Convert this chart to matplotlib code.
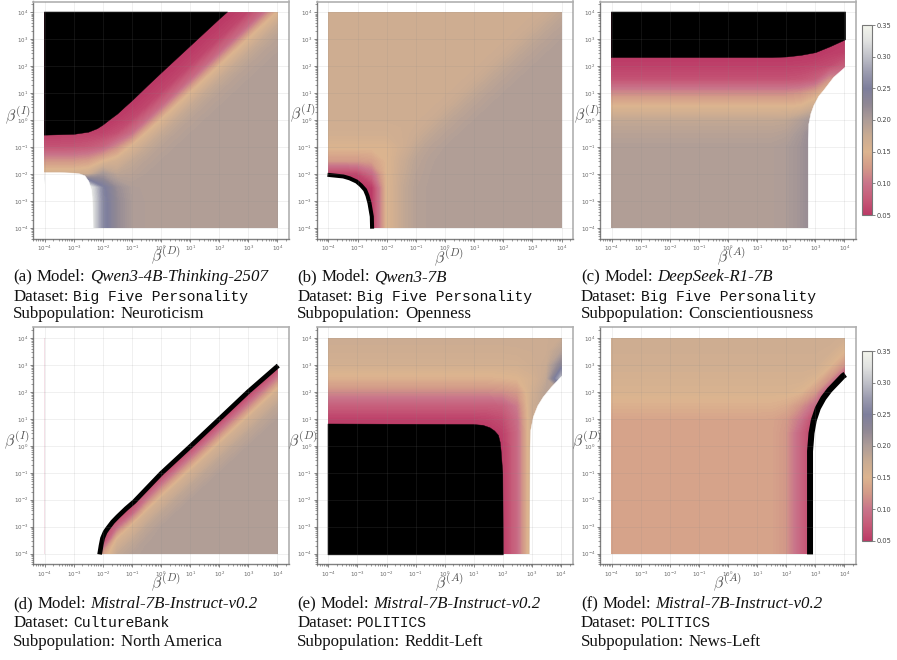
import numpy as np
import matplotlib
matplotlib.use('Agg')
import matplotlib.pyplot as plt
from matplotlib.colors import LinearSegmentedColormap, Normalize
from matplotlib.cm import ScalarMappable

# colour of the scale from 0.05 to 0.35, equal steps
scale_colors = ['#bb3a66', '#c65a78', '#c9748a', '#d39a88', '#dcb48f', '#c9ab92',
                '#ad9c97', '#8f8794', '#7d7e9c', '#9a9aae', '#bfc0c8', '#e0e1e0', '#f3f5ec']
cbar_ticks = [0.05, 0.10, 0.15, 0.20, 0.25, 0.30, 0.35]
exponents = np.arange(-4, 4.5, 0.5)

# fields: one row per exponent of the y axis (-4 to 4 by 0.5), one column per exponent of the x axis
field_a = [
    [.40,.40,.40,.355,.26,.22,.20]+[.197]*10,
    [.40,.40,.40,.355,.26,.22,.20]+[.197]*10,
    [.40,.40,.40,.355,.26,.22,.20]+[.197]*10,
    [.40,.40,.40,.35,.255,.215,.198]+[.197]*10,
    [.165,.165,.165,.17,.205,.185,.19,.195]+[.197]*9,
    [.12,.12,.12,.125,.145,.162,.18,.19,.195]+[.197]*8,
    [.07,.07,.071,.075,.085,.115,.155,.178,.19,.195]+[.197]*7,
    [.053,.053,.054,.055,.058,.068,.095,.152,.178,.19,.195]+[.197]*6,
    [.045]*5+[.052,.062,.092,.15,.178,.19,.195]+[.197]*5,
    [.045]*6+[.05,.06,.09,.15,.178,.19,.195]+[.197]*4,
    [.045]*7+[.05,.06,.09,.15,.178,.19,.195]+[.197]*3,
    [.045]*8+[.05,.06,.09,.15,.178,.19,.195]+[.197]*2,
    [.045]*9+[.05,.06,.09,.15,.178,.19,.195]+[.197]*1,
    [.045]*10+[.05,.06,.09,.15,.178,.19,.195],
    [.045]*11+[.05,.06,.09,.15,.178,.19],
    [.045]*12+[.05,.06,.09,.15,.178],
    [.045]*13+[.05,.06,.09,.15],
]
field_b = [
    [.045,.045,.045,.05,.15,.178,.192,.196]+[.197]*9,
    [.045,.045,.045,.05,.15,.178,.192,.196]+[.197]*9,
    [.045,.045,.045,.05,.15,.178,.192,.196]+[.197]*9,
    [.045,.045,.045,.05,.15,.178,.192,.196]+[.197]*9,
    [.055,.055,.06,.09,.15,.175,.19,.195]+[.197]*9,
    [.125,.125,.125,.13,.15,.172,.187,.194]+[.197]*9,
    [.152,.152,.152,.152,.152,.165,.18,.19,.195]+[.197]*8,
    [.164]*5+[.167,.172,.182,.19,.195]+[.197]*7,
    [.168]*6+[.169,.173,.182,.19,.195]+[.197]*6,
    [.168]*7+[.169,.173,.182,.19,.195]+[.197]*5,
    [.168]*8+[.169,.173,.182,.19,.195]+[.197]*4,
    [.168]*9+[.169,.173,.182,.19,.195]+[.197]*3,
    [.168]*10+[.169,.173,.182,.19,.195]+[.197]*2,
    [.168]*11+[.169,.173,.182,.19,.195]+[.197]*1,
    [.168]*12+[.169,.173,.182,.19,.195],
    [.168]*13+[.169,.173,.182,.19],
    [.168]*14+[.169,.173,.182],
]
field_c = [
    [.197]*12+[.20,.21,.225,.225,.225],
    [.197]*12+[.20,.21,.225,.225,.225],
    [.197]*12+[.20,.21,.225,.225,.225],
    [.197]*12+[.20,.21,.225,.225,.225],
    [.197]*12+[.20,.21,.225,.225,.225],
    [.197]*12+[.20,.21,.225,.225,.225],
    [.197]*12+[.20,.21,.225,.225,.225],
    [.19]*12+[.193,.205,.225,.225,.225],
    [.18]*12+[.182,.195,.21,.21,.21],
    [.15]*12+[.15,.152,.17,.18,.18],
    [.115]*12+[.115,.12,.135,.16,.16],
    [.07]*12+[.07,.072,.08,.12,.12],
    [.055]*12+[.055,.057,.06,.065,.08],
    [.045]*15+[.052,.055],
    [.045]*16+[.05],
    [.045]*17,
    [.045]*17,
]
field_d = [
    [.045]*4+[.125,.18,.192]+[.197]*10,
    [.045]*5+[.158,.18,.194]+[.197]*9,
    [.045]*5+[.09,.157,.183,.195]+[.197]*8,
    [.045]*6+[.085,.162,.184,.195]+[.197]*7,
    [.045]*7+[.10,.163,.184,.195]+[.197]*6,
    [.045]*8+[.105,.163,.184,.195]+[.197]*5,
    [.045]*9+[.105,.163,.184,.195]+[.197]*4,
    [.045]*10+[.105,.163,.184,.195]+[.197]*3,
    [.045]*11+[.105,.163,.184,.195]+[.197]*2,
    [.045]*12+[.105,.163,.184,.195]+[.197]*1,
    [.045]*13+[.105,.163,.184,.195],
    [.045]*14+[.105,.163,.184],
    [.045]*15+[.105,.163],
    [.045]*16+[.105],
    [.045]*17,
    [.045]*17,
    [.045]*17,
]
field_e = [
    [.045]*12+[.05,.09,.17,.17,.17],
    [.045]*12+[.05,.09,.17,.17,.17],
    [.045]*12+[.05,.09,.17,.17,.17],
    [.045]*12+[.05,.09,.17,.17,.17],
    [.045]*12+[.05,.09,.17,.17,.17],
    [.045]*12+[.05,.09,.17,.17,.17],
    [.045]*12+[.05,.09,.17,.17,.17],
    [.045]*12+[.05,.09,.17,.17,.17],
    [.045]*12+[.05,.09,.17,.17,.17],
    [.045]*12+[.055,.09,.17,.17,.17],
    [.055]*11+[.058,.065,.095,.17,.17,.17],
    [.08]*12+[.082,.105,.17,.19,.19],
    [.115]*12+[.117,.125,.165,.19,.19],
    [.145]*12+[.147,.15,.16,.18,.30],
    [.162]*12+[.162,.163,.168,.175,.23],
    [.168]*12+[.168,.169,.17,.172,.19],
    [.172]*12+[.172,.172,.172,.172,.175],
]
field_f = [
    [.135]*11+[.133,.122,.085,.045,.045,.045],
    [.135]*11+[.133,.122,.085,.045,.045,.045],
    [.135]*11+[.133,.122,.085,.045,.045,.045],
    [.135]*11+[.133,.122,.085,.045,.045,.045],
    [.135]*11+[.133,.122,.085,.045,.045,.045],
    [.135]*11+[.133,.122,.085,.045,.045,.045],
    [.135]*11+[.133,.122,.085,.045,.045,.045],
    [.135]*11+[.133,.122,.085,.045,.045,.045],
    [.135]*11+[.133,.122,.085,.045,.045,.045],
    [.135]*11+[.133,.122,.085,.045,.045,.045],
    [.135]*11+[.134,.125,.10,.055,.05,.05],
    [.145]*11+[.145,.14,.12,.09,.05,.05],
    [.155]*11+[.155,.155,.15,.125,.06,.05],
    [.16]*11+[.16,.16,.16,.152,.12,.055],
    [.165]*11+[.165,.165,.165,.165,.152,.12],
    [.168]*11+[.168,.168,.168,.168,.165,.15],
    [.17]*11+[.17,.17,.17,.17,.17,.165],
]

# region boundaries, as exponents
black_a_u = [-4.03,-3,-2.5,-2.2,-2,-1.75,-1.5,-1.25,-1,-.5,0,.5,1,1.5,2,2.27]
black_a_v = [-.54,-.51,-.43,-.3,-.16,.05,.25,.5,.74,1.26,1.77,2.27,2.77,3.27,3.77,4.03]
white_a_u = [-4.03,-3.5,-3,-2.8,-2.63,-2.5,-2.4,-2.36,-2.35]
white_a_v = [-1.93,-1.93,-1.95,-1.98,-2.05,-2.25,-2.6,-3.2,-4.03]
band_b_u = [-4.03,-3.49,-3.27,-3.03,-2.88,-2.74,-2.66,-2.59,-2.51,-2.50]
band_b_v = [-2.03,-2.09,-2.16,-2.28,-2.42,-2.59,-2.8,-3.08,-3.58,-4.03]
black_c_u = [-4.03,1.5,2,2.5,3,3.5,4.03]
black_c_v = [2.34,2.34,2.36,2.42,2.52,2.74,3]
white_c_u = [2.74,2.74,2.76,2.83,2.93,3.1,3.27,3.61,4.03]
white_c_v = [-4.03,-.7,-.13,.25,.55,.9,1.12,1.6,2]
band_d_u = [-2.11,-2.06,-2.01,-1.92,-1.83,-1.66,-1.49,-1.2,-.92,.01,1.01,2.04,3.01,4.03]
band_d_v = [-4.03,-3.7,-3.43,-3.2,-3.06,-2.82,-2.63,-2.33,-2.07,-1.02,-.02,1.03,2.02,2.98]
black_e_u = [-4.03,.97,1.3,1.54,1.7,1.83,1.89,1.92,1.98,2]
black_e_v = [.83,.81,.78,.69,.57,.41,.15,-.15,-1.01,-4.03]
white_e_u = [2.91,2.92,2.94,3.03,3.18,3.37,3.65,4.03]
white_e_v = [-4.03,0,.59,1.09,1.5,1.83,2.2,2.63]
band_f_u = [2.82,2.82,2.87,2.95,3.09,3.28,3.49,3.95,4.03]
band_f_v = [-4.03,-.2,.47,.95,1.4,1.77,2.07,2.59,2.65]

W, H = 897, 660
plt.rcParams['mathtext.fontset'] = 'cm'
fig = plt.figure(figsize=(W/100, H/100), dpi=100)

cmap = LinearSegmentedColormap.from_list('scale', scale_colors, N=512).with_extremes(under=scale_colors[0], over='white')
norm = Normalize(0.05, 0.35)
levels = np.linspace(0.05, 0.35, 121)
tick_labels = ['$\\mathdefault{10^{%d}}$' % k for k in range(-4, 5)]
minor = [k + np.log10(m) for k in range(-5, 5) for m in range(2, 10)]


def px_axes(left, right, top, bottom):
    return fig.add_axes([left/W, 1 - bottom/H, (right-left)/W, (bottom-top)/H])


def panel(rect, field, xname, yname, xlab_pos, ylab_pos):
    ax = px_axes(*rect)
    ax.contourf(exponents, exponents, np.array(field), levels=levels, cmap=cmap, norm=norm, extend='both', zorder=1)
    ax.set_xlim(-4.4, 4.4)
    ax.set_ylim(-4.4, 4.4)
    for axis in (ax.xaxis, ax.yaxis):
        axis.set_ticks(range(-4, 5), labels=tick_labels)
        axis.set_ticks([m for m in minor if abs(m) < 4.4], minor=True)
    ax.tick_params(which='major', labelsize=4.0, length=2, width=0.5, pad=1.5, color='#555555', labelcolor='#666666')
    ax.tick_params(which='minor', length=1.2, width=0.4, color='#555555')
    ax.grid(True, which='major', color='#888888', alpha=0.13, lw=0.7)
    ax.set_axisbelow(False)
    for side in ('top', 'right'):
        ax.spines[side].set_color('#b0b0b0')
        ax.spines[side].set_linewidth(1.2)
    for side in ('left', 'bottom'):
        ax.spines[side].set_color('#808080')
        ax.spines[side].set_linewidth(1.0)
    fig.text(xlab_pos[0]/W, 1 - xlab_pos[1]/H, '$\\beta^{(%s)}$' % xname, fontsize=11.5, color='#555555', ha='center', va='center')
    fig.text(ylab_pos[0]/W, 1 - ylab_pos[1]/H, '$\\beta^{(%s)}$' % yname, fontsize=11.5, color='#555555', ha='center', va='center')
    return ax


def caption(x, y, parts):
    # parts are (text, family, style, size), laid one after the other on the baseline
    renderer = fig.canvas.get_renderer()
    for text, family, style, size in parts:
        t = fig.text(x/W, 1 - y/H, text, family=family, style=style, fontsize=size, color='#111111', va='baseline', ha='left')
        x += t.get_window_extent(renderer).width + 4.5


def three_lines(x, y0, y1, y2, tag, model, dataset, subpop):
    serif, mono = 'Liberation Serif', 'Liberation Mono'
    caption(x, y0, [(tag, serif, 'normal', 12.2), ('Model:', serif, 'normal', 12.2), (model, serif, 'italic', 12.2)])
    caption(x, y1, [('Dataset:', serif, 'normal', 12.2), (dataset, mono, 'normal', 10.5)])
    caption(x, y2, [('Subpopulation:', serif, 'normal', 12.2), (subpop, serif, 'normal', 12.2)])


def colorbar(left, right, top, bottom):
    cax = px_axes(left, right, top, bottom)
    cb = fig.colorbar(ScalarMappable(norm=norm, cmap=cmap), cax=cax, ticks=cbar_ticks, format='%.2f')
    cb.ax.tick_params(labelsize=4.8, length=2, width=0.5, pad=1.5, color='#555555', labelcolor='#444444')
    cb.outline.set_edgecolor('#777777')
    cb.outline.set_linewidth(0.8)


ax = panel((33, 289, 1.5, 238.7), field_a, 'D', 'I', (165.5, 255), (18, 115))
ax.fill_between(black_a_u, black_a_v, 4.03, color='black', lw=0.3, zorder=1.5)
ax.fill_between(white_a_u, -4.03, white_a_v, color='white', lw=0.3, zorder=1.5)

ax = panel((316.7, 573.3, 1.5, 238.7), field_b, 'D', 'I', (449, 257), (302.5, 113))
ax.fill_between(band_b_u, -4.03, band_b_v, color='white', lw=0.3, zorder=1.5)
ax.plot(band_b_u, band_b_v, color='black', lw=2.9, solid_capstyle='butt', zorder=1.8)

ax = panel((600, 856, 1.5, 238.7), field_c, 'A', 'I', (731, 256), (587, 114))
ax.fill_between(black_c_u, black_c_v, 4.03, color='black', lw=0.3, zorder=1.5)
ax.fill_between(white_c_u, -4.03, white_c_v, color='white', lw=0.3, zorder=1.5)

ax = panel((33, 289, 327.3, 564.4), field_d, 'D', 'I', (165.5, 582), (17, 440))
ax.fill_between([-4.03, -2.11] + band_d_u[1:], [-4.03, -4.03] + band_d_v[1:], 4.03, color='white', lw=0.3, zorder=1.5)
ax.plot(band_d_u, band_d_v, color='black', lw=3.4, solid_capstyle='butt', zorder=1.8)

ax = panel((316.7, 572.7, 327.3, 564.4), field_e, 'A', 'D', (449, 582), (303, 440))
ax.fill_between(black_e_u, -4.03, black_e_v, color='black', lw=0.3, zorder=1.5)
ax.fill_between(white_e_u, -4.03, white_e_v, color='white', lw=0.3, zorder=1.5)

ax = panel((600, 856, 327.3, 564.4), field_f, 'A', 'D', (727, 582), (587, 440))
ax.fill_between(band_f_u, -4.03, band_f_v, color='white', lw=0.3, zorder=1.5)
ax.plot(band_f_u, band_f_v, color='black', lw=4.3, solid_capstyle='butt', zorder=1.8)

colorbar(862.3, 871.7, 25, 215)
colorbar(862.3, 871.7, 351, 540.7)

three_lines(13.3, 281, 301, 318, '(a)', 'Qwen3-4B-Thinking-2507', 'Big Five Personality', 'Neuroticism')
three_lines(297.3, 281, 301, 318, '(b)', 'Qwen3-7B', 'Big Five Personality', 'Openness')
three_lines(581, 281, 301, 318, '(c)', 'DeepSeek-R1-7B', 'Big Five Personality', 'Conscientiousness')
three_lines(13.3, 608, 627, 646, '(d)', 'Mistral-7B-Instruct-v0.2', 'CultureBank', 'North America')
three_lines(297.3, 608, 627, 646, '(e)', 'Mistral-7B-Instruct-v0.2', 'POLITICS', 'Reddit-Left')
three_lines(581, 608, 627, 646, '(f)', 'Mistral-7B-Instruct-v0.2', 'POLITICS', 'News-Left')

fig.savefig('out.png', dpi=100)
